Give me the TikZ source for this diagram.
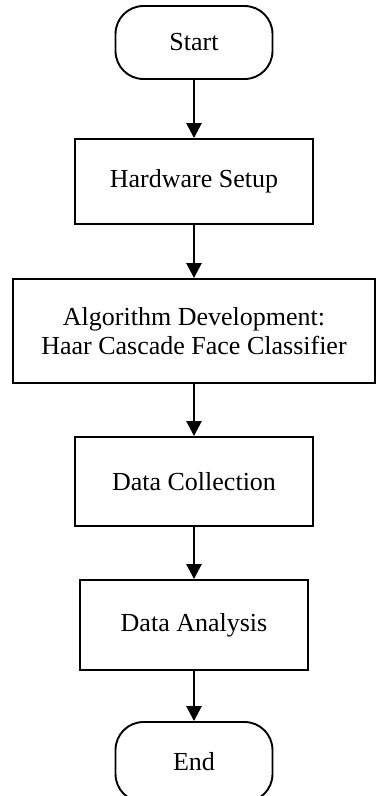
\documentclass[tikz,border=0pt]{standalone}
\usepackage{fontspec}
\setmainfont{Liberation Serif}
\usetikzlibrary{arrows.meta}
\begin{document}
\begin{tikzpicture}[x=1pt,y=-1pt,
  every node/.style={font=\fontsize{26}{28.5}\selectfont, inner sep=0pt, align=center},
  boxstyle/.style={draw, line width=1.9pt, rectangle, minimum width=#1},
  termstyle/.style={draw, line width=1.9pt, rectangle, rounded corners=28pt, minimum width=157pt},
  arrowstyle/.style={line width=2.6pt, -{Triangle[width=15pt,length=15pt]}}
]
\useasboundingbox (0,0) rectangle (379,796);
\node[termstyle, minimum height=73pt] (start) at (194,42.5) {Start};
\node[boxstyle=238pt, minimum height=85pt] (hw) at (194,181.5) {Hardware Setup};
\node[boxstyle=362pt, minimum height=104pt] (alg) at (194,331) {Algorithm Development:\\Haar Cascade Face Classifier};
\node[boxstyle=238pt, minimum height=89pt] (dc) at (194,481.5) {Data Collection};
\node[boxstyle=228pt, minimum height=90pt] (da) at (194,625) {Data Analysis};
\node[termstyle, minimum height=80pt] (end) at (194,762) {End};
\draw[arrowstyle] (start) -- (hw);
\draw[arrowstyle] (hw) -- (alg);
\draw[arrowstyle] (alg) -- (dc);
\draw[arrowstyle] (dc) -- (da);
\draw[arrowstyle] (da) -- (end);
\end{tikzpicture}
\end{document}
